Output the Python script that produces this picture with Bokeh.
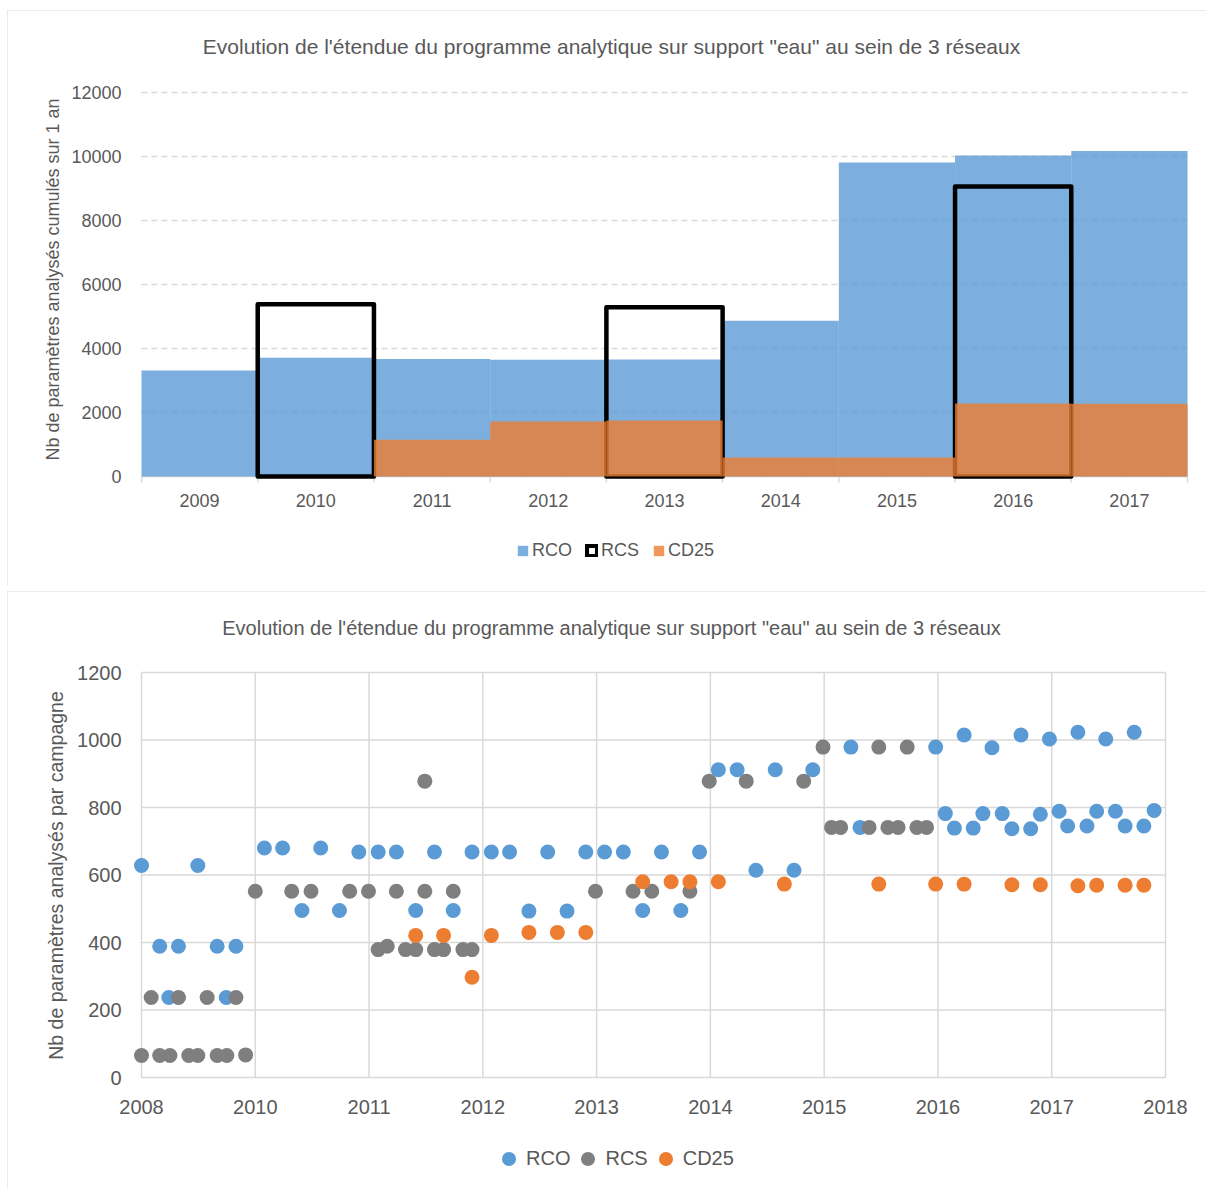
import math
from bokeh.plotting import figure
from bokeh.models import Range1d, Legend, LegendItem, Label
from bokeh.core.properties import value
from bokeh.embed import file_html
from bokeh.resources import INLINE

# ---------------- data: yearly totals (upper chart) ----------------
years = ["2009", "2010", "2011", "2012", "2013", "2014", "2015", "2016", "2017"]
rco_year = [3310, 3710, 3670, 3650, 3660, 4870, 9810, 10030, 10170]
rcs_year = [None, 5380, None, None, 5290, None, None, 9060, None]
cd25_year = [0, 0, 1150, 1720, 1750, 590, 590, 2280, 2270]
year_ticks = [0, 2000, 4000, 6000, 8000, 10000, 12000]

# ---------------- data: per campaign (lower chart), dates in decimal years ----------------
rco_date = [2009.00, 2009.16, 2009.24, 2009.325, 2009.495, 2009.665, 2009.745, 2009.83,
            2010.08, 2010.24, 2010.41, 2010.575, 2010.74, 2010.91, 2011.08, 2011.24,
            2011.41, 2011.575, 2011.74, 2011.905, 2012.075, 2012.235, 2012.405, 2012.57,
            2012.74, 2012.905, 2013.07, 2013.235, 2013.405, 2013.57, 2013.74, 2013.905,
            2014.07, 2014.235, 2014.40, 2014.57, 2014.735, 2014.90, 2015.235, 2015.315,
            2015.98, 2016.065, 2016.145, 2016.23, 2016.31, 2016.395, 2016.475, 2016.565,
            2016.65, 2016.73, 2016.815, 2016.90, 2016.98, 2017.065, 2017.14, 2017.23,
            2017.31, 2017.395, 2017.475, 2017.56, 2017.645, 2017.725, 2017.81, 2017.90]
rco_count = [628, 389, 237, 389, 628, 389, 237, 389,
             680, 680, 495, 680, 495, 668, 668, 668,
             495, 668, 495, 668, 668, 668, 493, 668,
             493, 668, 668, 668, 495, 668, 495, 668,
             912, 912, 614, 912, 614, 912, 979, 741,
             979, 782, 739, 1015, 739, 782, 977, 782,
             737, 1015, 737, 780, 1003, 789, 745, 1023,
             745, 789, 1003, 789, 745, 1023, 745, 791]

rcs_date = [2009.00, 2009.085, 2009.16, 2009.25, 2009.325, 2009.415, 2009.495, 2009.577,
            2009.665, 2009.75, 2009.83, 2009.915, 2010.00, 2010.32, 2010.49, 2010.83,
            2010.995, 2011.08, 2011.16, 2011.24, 2011.32, 2011.41, 2011.49, 2011.49,
            2011.575, 2011.655, 2011.74, 2011.825, 2011.905, 2012.99, 2013.32, 2013.485,
            2013.82, 2013.99, 2014.315, 2014.82, 2014.99, 2015.065, 2015.145, 2015.395,
            2015.48, 2015.56, 2015.65, 2015.73, 2015.815, 2015.90]
rcs_count = [65, 237, 65, 65, 237, 65, 65, 237,
             65, 65, 237, 67, 552, 552, 552, 552,
             552, 379, 389, 552, 379, 379, 878, 552,
             379, 379, 552, 379, 379, 552, 552, 552,
             552, 878, 878, 878, 979, 741, 741, 741,
             979, 741, 741, 979, 741, 741]

cd25_date = [2011.41, 2011.655, 2011.905, 2012.075, 2012.405, 2012.655, 2012.905,
             2013.405, 2013.655, 2013.82, 2014.07, 2014.65, 2015.48, 2015.98,
             2016.23, 2016.65, 2016.90, 2017.23, 2017.395, 2017.645, 2017.81]
cd25_count = [421, 421, 297, 421, 430, 430, 430,
              580, 580, 580, 580, 573, 573, 573,
              573, 571, 571, 568, 570, 570, 570]

date_ticks = [2009, 2010, 2011, 2012, 2013, 2014, 2015, 2016, 2017, 2018]
date_tick_labels = ["2008", "2010", "2011", "2012", "2013", "2014", "2015", "2016", "2017", "2018"]
count_ticks = [0, 200, 400, 600, 800, 1000, 1200]

TITLE = "Evolution de l'étendue du programme analytique sur support \"eau\" au sein de 3 réseaux"

# ---------------- styling ----------------
TXT = "#595959"
GRID = "#d9d9d9"
SANS = "'Liberation Sans', Arial, sans-serif"
BLUE = "#5B9BD5"
ORANGE = "#ED7D31"
GREY = "#7F7F7F"
PANEL_STYLE = {"outline": "2px solid #d9d9d9", "outline-offset": "-2px"}


def padded_range(v0, v1, px0, px1, lo_pad_px, hi_pad_px):
    """Range whose values v0/v1 sit at pixel positions px0/px1, widened by extra pixels."""
    k = (px1 - px0) / (v1 - v0)
    return Range1d(v0 - lo_pad_px / k, v1 + hi_pad_px / k), k


def panel(width, height, x_range, y_range, top_margin):
    p = figure(width=width, height=height, x_range=x_range, y_range=y_range, title=None,
               x_axis_location=None, y_axis_location=None,
               output_backend="svg", toolbar_location=None,
               min_border_left=0, min_border_right=0, min_border_top=0, min_border_bottom=0)
    p.margin = (top_margin, 0, 0, 7)
    p.styles = PANEL_STYLE
    p.outline_line_color = None
    p.background_fill_color = "white"
    p.border_fill_color = "white"
    p.grid.visible = False
    return p


# ================= upper chart: yearly totals =================
# panel on the page: x 7..1206, y 10..586 ; plotted window x 141..1187, y 92..476
W1, H1 = 1199, 576
PX0, PY0 = 7, 10
xr1, kx1 = padded_range(0, len(years), 141, 1187, 141 - PX0, 1206 - 1187)
yr1, ky1 = padded_range(0, year_ticks[-1], 0, 476 - 92, PY0 + H1 - 476, 92 - PY0)
p1 = panel(W1, H1, xr1, yr1, PY0)

centers = [i + 0.5 for i in range(len(years))]
bounds = list(range(len(years) + 1))
n_yt = len(year_ticks)

# dashed value grid
p1.segment(x0=[bounds[0]] * n_yt, y0=year_ticks, x1=[bounds[-1]] * n_yt, y1=year_ticks,
           line_color=GRID, line_width=1.3, line_dash="6 4")
# category axis: baseline, boundary ticks and year labels
tick_len = 6 / ky1
p1.segment(x0=[bounds[0]], y0=[0], x1=[bounds[-1]], y1=[0], line_color=GRID, line_width=1.5)
p1.segment(x0=bounds, y0=[0] * len(bounds), x1=bounds, y1=[-tick_len] * len(bounds),
           line_color=GRID, line_width=1.5)
p1.text(x=centers, y=[0] * len(centers), text=years, y_offset=24,
        text_align="center", text_baseline="middle", text_font=value(SANS),
        text_font_size=value("18px"), text_color=TXT)
# value axis labels
p1.text(x=[bounds[0]] * n_yt, y=year_ticks, text=[str(t) for t in year_ticks], x_offset=-20,
        text_align="right", text_baseline="middle", text_font=value(SANS),
        text_font_size=value("18px"), text_color=TXT)

r_rco = p1.vbar(x=centers, top=rco_year, width=1.0, bottom=0,
                fill_color=BLUE, fill_alpha=0.8, line_color=None)
rcs_x = [c for c, v in zip(centers, rcs_year) if v is not None]
rcs_top = [v for v in rcs_year if v is not None]
r_rcs = p1.vbar(x=rcs_x, top=rcs_top, width=1.0, bottom=0,
                fill_color=None, line_color="black", line_width=4.5, line_join="round")
r_cd = p1.vbar(x=centers, top=cd25_year, width=1.0, bottom=0,
               fill_color=ORANGE, fill_alpha=0.8, line_color=None)

p1.add_layout(Label(x=52 - PX0, y=PY0 + H1 - 279, x_units="screen", y_units="screen",
                    text="Nb de paramètres analysés cumulés sur 1 an", angle=math.pi / 2,
                    text_align="center", text_baseline="middle", text_font=SANS,
                    text_font_size="18px", text_color=TXT))
p1.add_layout(Label(x=611 - PX0, y=PY0 + H1 - 46, x_units="screen", y_units="screen", text=TITLE,
                    text_align="center", text_baseline="middle", text_font=SANS,
                    text_font_size="21px", text_color=TXT))

leg1 = Legend(items=[LegendItem(label="RCO", renderers=[r_rco]),
                     LegendItem(label="RCS", renderers=[r_rcs]),
                     LegendItem(label="CD25", renderers=[r_cd])],
              orientation="horizontal", location=(516 - PX0, PY0 + H1 - 561),
              glyph_width=13, glyph_height=13, label_standoff=3, spacing=13,
              padding=0, margin=0, border_line_color=None, background_fill_alpha=0,
              label_text_font=SANS, label_text_font_size="18px", label_text_color=TXT)
p1.add_layout(leg1, "center")

# ================= lower chart: per campaign =================
# panel on the page: x 7..1206, y 591..1188 ; plotted window x 141..1165, y 672..1077
W2, H2 = 1199, 597
QY0 = 591
xr2, kx2 = padded_range(date_ticks[0], date_ticks[-1], 141, 1165, 141 - PX0, 1206 - 1165)
yr2, ky2 = padded_range(count_ticks[0], count_ticks[-1], 0, 1077 - 672, QY0 + H2 - 1077, 672 - QY0)
p2 = panel(W2, H2, xr2, yr2, QY0 - (PY0 + H1))

X0, X1 = date_ticks[0], date_ticks[-1]
Y0, Y1 = count_ticks[0], count_ticks[-1]
n_ct = len(count_ticks)
# grid and border of the plotted window
p2.segment(x0=date_ticks, y0=[Y0] * len(date_ticks), x1=date_ticks, y1=[Y1] * len(date_ticks),
           line_color=GRID, line_width=1.5)
p2.segment(x0=[X0] * n_ct, y0=count_ticks, x1=[X1] * n_ct, y1=count_ticks,
           line_color=GRID, line_width=1.5)
p2.text(x=date_ticks, y=[Y0] * len(date_ticks), text=date_tick_labels, y_offset=29,
        text_align="center", text_baseline="middle", text_font=value(SANS),
        text_font_size=value("20px"), text_color=TXT)
p2.text(x=[X0] * n_ct, y=count_ticks, text=[str(t) for t in count_ticks], x_offset=-20,
        text_align="right", text_baseline="middle", text_font=value(SANS),
        text_font_size=value("20px"), text_color=TXT)

s_rco = p2.scatter(rco_date, rco_count, size=15, fill_color=BLUE, line_color=None)
s_rcs = p2.scatter(rcs_date, rcs_count, size=15, fill_color=GREY, line_color=None)
s_cd = p2.scatter(cd25_date, cd25_count, size=15, fill_color=ORANGE, line_color=None)

p2.add_layout(Label(x=55 - PX0, y=QY0 + H2 - 875, x_units="screen", y_units="screen",
                    text="Nb de paramètres analysés par campagne", angle=math.pi / 2,
                    text_align="center", text_baseline="middle", text_font=SANS,
                    text_font_size="19.5px", text_color=TXT))
p2.add_layout(Label(x=611 - PX0, y=QY0 + H2 - 627, x_units="screen", y_units="screen", text=TITLE,
                    text_align="center", text_baseline="middle", text_font=SANS,
                    text_font_size="20px", text_color=TXT))

leg2 = Legend(items=[LegendItem(label="RCO", renderers=[s_rco]),
                     LegendItem(label="RCS", renderers=[s_rcs]),
                     LegendItem(label="CD25", renderers=[s_cd])],
              orientation="horizontal", location=(491 - PX0, QY0 + H2 - 1176),
              glyph_width=35, glyph_height=35, label_standoff=0, spacing=0,
              padding=0, margin=0, border_line_color=None, background_fill_alpha=0,
              label_text_font=SANS, label_text_font_size="20px", label_text_color=TXT)
p2.add_layout(leg2, "center")

open("out.html", "w").write(file_html([p1, p2], INLINE))
